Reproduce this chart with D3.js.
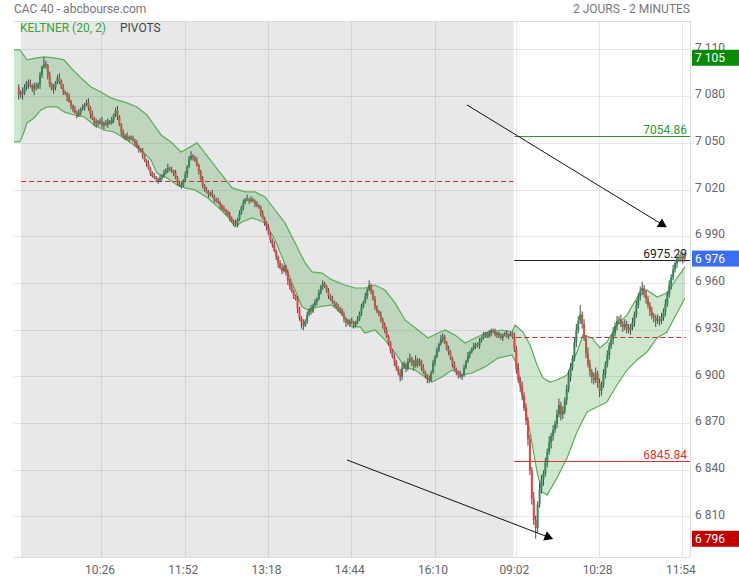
<!DOCTYPE html>
<meta charset="utf-8">
<style>
body { margin: 0; background: #fff; }
text { font-family: Roboto, "Open Sans", sans-serif; font-size: 12px; }
</style>
<body>
<script src="https://d3js.org/d3.v7.min.js"></script>
<script>
// CAC 40, 2 days of 2-minute candles. index 0 = day 1 09:00, index 256 = day 2 09:00
var firstOpen = 7086;

var day1Close = [
  7081,7083,7082,7086,7089,7088,7087,7085,7087,7086,7088,7094,7099,7101,7100,7094,
  7088,7085,7086,7089,7092,7090,7086,7083,7082,7080,7077,7074,7072,7070,7068,7070,
  7072,7073,7075,7076,7073,7069,7066,7063,7064,7063,7064,7062,7063,7062,7064,7063,
  7065,7068,7071,7067,7062,7057,7054,7055,7053,7054,7053,7052,7050,7048,7046,7045,
  7042,7039,7037,7034,7031,7029,7028,7027,7026,7028,7029,7031,7033,7034,7033,7032,
  7031,7028,7025,7023,7023,7026,7030,7035,7040,7042,7041,7039,7036,7032,7027,7023,
  7020,7019,7017,7018,7016,7014,7013,7012,7010,7008,7007,7006,7004,7002,7000,6999,
  6998,7001,7005,7009,7012,7014,7014,7013,7014,7013,7011,7010,7009,7005,7002,6999,
  6996,6992,6988,6985,6981,6977,6973,6970,6968,6971,6967,6962,6958,6955,6952,6950,
  6944,6938,6935,6933,6936,6940,6943,6942,6946,6948,6950,6954,6958,6960,6958,6955,
  6952,6950,6948,6947,6945,6944,6943,6940,6937,6935,6934,6936,6935,6933,6935,6937,
  6941,6945,6948,6952,6956,6959,6955,6950,6945,6942,6940,6937,6934,6930,6926,6922,
  6917,6913,6910,6906,6903,6900,6906,6908,6905,6910,6912,6909,6907,6911,6908,6910,
  6906,6903,6901,6899,6898,6903,6909,6913,6917,6921,6924,6926,6922,6918,6916,6912,
  6908,6905,6903,6902,6900,6901,6906,6910,6914,6916,6918,6920,6921,6920,6923,6925,
  6927,6928,6926,6928,6930,6929,6927,6928,6926,6925,6927,6928,6926,6927,6928,6925.6
];
var day2Close = [
  6918,6905,6898,6894,6888,6880,6872,6860,6840,6822,6808,6803,6818,6828,6834,6838,
  6845,6852,6858,6862,6866,6870,6876,6882,6876,6878,6885,6892,6900,6906,6912,6922,
  6930,6936,6940,6934,6925,6915,6908,6903,6900,6898,6902,6896,6891,6895,6902,6908,
  6914,6920,6924,6928,6933,6936,6937,6934,6932,6934,6931,6930,6932,6935,6940,6946,
  6952,6955,6957,6953,6950,6946,6942,6939,6938,6936,6937,6936,6938,6942,6947,6953,
  6959,6964,6969,6973,6976,6977,6976,6978,6976
];

// wick length above / below the body, in points
var day1WickUp = [
  2,1,3,2,1,2,3,1,2,2,1,2,1,4,2,1, 2,1,2,1,2,3,1,2,1,1,2,1,1,2,1,2,
  1,2,1,2,3,1,2,1,2,1,2,3,1,2,2,1, 2,1,2,3,1,1,2,1,2,1,1,2,1,2,1,1,
  2,1,1,2,1,1,2,1,1,2,1,2,1,3,1,2, 1,2,1,1,2,1,2,1,2,3,1,1,2,1,1,2,
  1,2,1,1,2,1,1,2,1,1,2,1,1,2,1,1, 2,1,2,1,2,1,3,1,2,1,1,2,1,1,2,1,
  1,2,1,1,2,1,1,2,3,1,1,2,1,2,1,1, 2,1,1,2,1,2,1,3,1,2,1,2,1,2,1,1,
  2,1,2,1,1,2,1,1,2,1,2,1,2,1,1,2, 1,2,1,2,1,3,1,1,2,1,1,2,1,1,2,1,
  1,1,2,1,1,2,3,2,1,2,3,1,2,3,1,2, 1,2,1,1,2,1,2,1,2,1,3,2,1,1,2,1,
  1,2,1,1,2,1,2,1,2,1,1,2,1,1,2,1, 2,1,1,2,1,1,2,1,1,2,1,1,2,1,1,1
];
var day1WickDn = [
  3,2,4,1,2,3,1,2,4,2,1,3,2,1,2,3, 2,1,3,2,1,2,1,2,1,3,1,2,2,1,2,1,
  2,1,2,1,2,3,1,2,3,2,1,2,3,1,2,1, 1,2,1,2,1,2,1,2,1,2,1,1,2,1,2,1,
  2,1,2,1,2,1,1,2,2,1,2,1,1,2,1,1, 2,1,2,1,2,1,1,2,1,1,2,1,1,2,1,2,
  1,1,2,1,1,2,1,1,2,1,1,2,1,2,1,2, 1,2,1,1,2,1,1,2,1,1,2,1,1,2,1,2,
  2,1,2,2,1,2,3,1,2,1,2,3,2,1,2,1, 3,2,4,3,1,2,1,2,1,1,2,1,1,2,1,1,
  2,1,1,2,1,2,2,1,2,3,1,2,1,2,1,1, 1,2,1,1,2,1,2,1,2,1,1,2,3,2,1,2,
  2,1,3,2,2,3,2,1,2,1,1,2,3,1,2,1, 2,1,2,3,2,1,1,2,1,1,1,2,1,1,2,1,
  2,1,2,3,1,2,1,1,1,2,1,1,2,1,2,1, 1,2,1,1,2,1,1,2,1,1,2,1,1,2,1,1
];
var day2WickUp = [
  3,2,4,2,3,2,3,2,3,2,4,3,2,4,3,2, 3,2,4,2,3,2,3,4,2,3,2,3,4,3,2,3,
  4,3,6,2,3,2,4,3,2,3,4,2,3,2,3,2, 3,2,3,4,2,3,2,3,2,3,2,3,2,3,2,3,
  2,3,4,2,3,2,2,3,2,2,3,2,3,2,3,2, 3,2,3,2,2,2,3,2,2
];
var day2WickDn = [
  2,3,2,4,3,2,3,4,3,4,3,7,3,2,3,4, 2,3,2,4,3,2,3,2,4,3,2,3,2,3,2,2,
  3,2,2,3,2,3,2,3,4,3,2,3,4,3,2,3, 2,3,2,3,2,3,2,2,3,2,3,2,3,2,3,2,
  2,3,2,2,3,2,3,2,3,4,2,3,2,2,3,2, 2,3,2,2,3,2,2,3,2
];

// stretches of heavy (bright red) selling
var vividRed = [[66,71],[103,112],[127,146],[189,198],[211,213],[225,229],[256,267]];

// Keltner (20, 2) envelope, [index, value]
var keltnerUpper = [[-2.45,7110],[0.6,7110],[4.3,7103.6],[9.4,7104.9],[13,7105.5],[18.2,7104.9],[23.4,7103.6],[27,7098.4],[32.2,7092],[37.3,7086.2],[42.5,7083],[47.6,7079.2],[50.7,7077.9],[55.9,7076],[61.1,7073.4],[66.2,7068.2],[69.9,7061.8],[73.5,7055.4],[78.6,7050.9],[83.8,7044.5],[85.9,7045.8],[92.1,7050.3],[96.2,7043.8],[102.9,7032.9],[110.2,7021.4],[116.9,7018.8],[122,7018.8],[127.2,7015.6],[132.4,7007.2],[137.5,6998.9],[142.7,6986.1],[147.9,6973.2],[151.5,6967.4],[156.6,6966.7],[161.8,6962.3],[168.5,6959],[173.7,6957.1],[178.8,6957.1],[184,6959],[189.2,6955.8],[194.3,6947.5],[199.5,6936.6],[206.2,6930.1],[211.4,6925],[216.6,6928.2],[220.2,6930.1],[225.3,6926.9],[230.5,6921.8],[235.7,6925],[242.4,6928.8],[249.6,6930.1],[254.8,6928.8],[256.3,6933.3],[260.5,6928.8],[264.1,6920.5],[267.7,6907.6],[270.8,6899.3],[274.4,6896.7],[278,6898],[283.2,6901.2],[288.3,6916],[291.4,6926.9],[296.1,6925],[300.2,6918.6],[303.8,6922.4],[309,6933.3],[314.2,6939.8],[319.3,6950.7],[324.5,6955.8],[329.7,6951.3],[334.8,6953.9],[340,6963.5],[344.1,6970.6]];
var keltnerLower = [[-2.45,7050.9],[0.6,7050.9],[2.7,7057.3],[4.3,7063.1],[7.9,7066.3],[11.5,7071.5],[14.6,7073.4],[19.8,7073.4],[23.4,7070.2],[28.5,7068.2],[33.7,7067],[38.9,7061.8],[44,7058.6],[49.2,7057.3],[54.4,7053.5],[59.5,7049],[64.7,7043.8],[68.3,7039.3],[71.4,7031],[76.6,7027.8],[81.7,7023.3],[85.9,7021.4],[91,7020.1],[97.7,7014.9],[102.9,7009.1],[108.1,7002.7],[111.7,6996.3],[115.3,6999.5],[120.5,7002.1],[123.6,7000.8],[127.2,6998.9],[132.4,6987.9],[136,6977],[139.1,6966.7],[142.7,6955.8],[146.3,6944.9],[149.4,6943],[154.6,6944.9],[161.8,6946.2],[168.5,6938.5],[172.1,6932.1],[176.3,6932.1],[178.8,6928.2],[184,6930.1],[189.2,6923.7],[194.3,6915.4],[199.5,6906.4],[204.7,6904.4],[209.8,6899.9],[213.4,6896.7],[218.6,6899.9],[223.8,6904.4],[228.9,6901.2],[234.1,6902.5],[240.8,6906.4],[247.5,6912.1],[254.8,6914.1],[257.4,6907.6],[260.5,6886.4],[264.1,6864.6],[267.7,6838.9],[270.3,6826.1],[272.9,6824.1],[278,6835.1],[283.2,6847.9],[288.3,6864.6],[293.5,6877.5],[298.7,6880.7],[303.8,6883.9],[309,6894.8],[314.2,6904.4],[319.3,6910.9],[324.5,6916],[329.7,6925],[334.8,6928.8],[340,6941],[344.1,6950.7]];

// pivots (day 2) and previous closes
var pivotValues = [7054.86, 6975.29, 6845.84];
var pivotColors = ["#2a9a2a", "#222", "#e53030"];
var prevClose = [[1.2, 255.5, 7025.8], [257, 344.5, 6925.6]];

// price badges on the axis: high, last, low
var badgeValues = [7105, 6976, 6796];
var badgeColors = ["#098a09", "#3b6ef5", "#c20000"];

var tickIdx = [43, 86, 129, 172, 215, 257, 300, 343];
var tickLabels = ["10:26", "11:52", "13:18", "14:44", "16:10", "09:02", "10:28", "11:54"];
var yTicks = [6810, 6840, 6870, 6900, 6930, 6960, 6990, 7020, 7050, 7080, 7110];

// trend arrows drawn on the chart, [index, value] start and tip
var arrows = [[[231.5, 7074.7], [334.7, 6996.1]], [[169.6, 6846.6], [276.0, 6795.9]]];

var W = 739, H = 580;
var plot = { left: 14, right: 690, top: 21, bottom: 557 };

var x = d3.scaleLinear().domain([-2.45, 346.7]).range([plot.left, plot.right]);
var y = d3.scaleLinear().domain([6784.3, 7128.6]).range([plot.bottom, plot.top]);

var svg = d3.select("body").append("svg")
    .attr("width", W)
    .attr("height", H);

svg.append("rect").attr("width", W).attr("height", H).attr("fill", "#fff");

// day 1 shading
svg.append("rect")
    .attr("x", x(prevClose[0][0]))
    .attr("y", plot.top)
    .attr("width", x(prevClose[0][1]) - x(prevClose[0][0]))
    .attr("height", plot.bottom - plot.top)
    .attr("fill", "#e8e8e8");

// grid
var grid = svg.append("g").attr("shape-rendering", "crispEdges");
grid.selectAll(".h").data(yTicks).enter().append("line")
    .attr("x1", plot.left).attr("x2", plot.right)
    .attr("y1", function(d) { return y(d); })
    .attr("y2", function(d) { return y(d); })
    .attr("stroke", "rgba(0,0,0,0.09)");
grid.selectAll(".v").data(tickIdx).enter().append("line")
    .attr("x1", function(d) { return x(d); })
    .attr("x2", function(d) { return x(d); })
    .attr("y1", plot.top).attr("y2", plot.bottom)
    .attr("stroke", "rgba(0,0,0,0.09)");
grid.append("line").attr("x1", plot.left).attr("x2", plot.right)
    .attr("y1", plot.top).attr("y2", plot.top).attr("stroke", "#ddd");
grid.append("line").attr("x1", plot.left).attr("x2", plot.right)
    .attr("y1", plot.bottom).attr("y2", plot.bottom).attr("stroke", "#ddd");
grid.append("line").attr("x1", plot.right).attr("x2", plot.right)
    .attr("y1", plot.top).attr("y2", plot.bottom).attr("stroke", "#ddd");

// keltner band
var bandLine = d3.line()
    .x(function(d) { return x(d[0]); })
    .y(function(d) { return y(d[1]); });
var bandPath = bandLine(keltnerUpper) + "L" + bandLine(keltnerLower.slice().reverse()).slice(1) + "Z";
svg.append("path")
    .attr("d", bandPath)
    .attr("fill", "rgba(60,160,60,0.25)");
svg.append("path").attr("d", bandLine(keltnerUpper))
    .attr("fill", "none").attr("stroke", "#5aad5a").attr("stroke-width", 1.2);
svg.append("path").attr("d", bandLine(keltnerLower))
    .attr("fill", "none").attr("stroke", "#5aad5a").attr("stroke-width", 1.2);

// previous close (dashed)
svg.selectAll(".pc").data(prevClose).enter().append("line")
    .attr("x1", function(d) { return x(d[0]); })
    .attr("x2", function(d) { return x(d[1]); })
    .attr("y1", function(d) { return Math.round(y(d[2])) + 0.5; })
    .attr("y2", function(d) { return Math.round(y(d[2])) + 0.5; })
    .attr("stroke", "#d42a2a")
    .attr("stroke-dasharray", "5,3");

// pivot lines
pivotValues.forEach(function(v, k) {
    var yy = Math.round(y(v)) + 0.5;
    svg.append("line")
        .attr("x1", x(256)).attr("x2", plot.right)
        .attr("y1", yy).attr("y2", yy)
        .attr("stroke", pivotColors[k]).attr("stroke-width", 1);
    svg.append("text")
        .attr("x", plot.right - 3).attr("y", yy - 3)
        .attr("text-anchor", "end")
        .attr("fill", pivotColors[k])
        .text(v.toFixed(2));
});

// candles
var closes = day1Close.concat(day2Close);
var wUp = day1WickUp.concat(day2WickUp);
var wDn = day1WickDn.concat(day2WickDn);
var candles = closes.map(function(c, i) {
    var o = i ? closes[i - 1] : firstOpen;
    return { i: i, o: o, c: c, h: Math.max(o, c) + wUp[i], l: Math.min(o, c) - wDn[i] };
});
function isVivid(i) {
    return vividRed.some(function(r) { return i >= r[0] && i <= r[1]; });
}
var cg = svg.append("g");
cg.selectAll(".wick").data(candles).enter().append("line")
    .attr("x1", function(d) { return x(d.i); })
    .attr("x2", function(d) { return x(d.i); })
    .attr("y1", function(d) { return y(d.h); })
    .attr("y2", function(d) { return y(d.l); })
    .attr("stroke", "#4a4a4a").attr("stroke-width", 1);
cg.selectAll(".body").data(candles).enter().append("rect")
    .attr("x", function(d) { return x(d.i) - 1; })
    .attr("width", 2)
    .attr("y", function(d) { return y(Math.max(d.o, d.c)); })
    .attr("height", function(d) { return Math.max(1.2, Math.abs(y(d.o) - y(d.c))); })
    .attr("fill", function(d) {
        if (d.c >= d.o) return "#2e8b57";
        return isVivid(d.i) ? "#f03c3c" : "#c8553e";
    });

// arrows
arrows.forEach(function(a) {
    var x0 = x(a[0][0]), y0 = y(a[0][1]), x1 = x(a[1][0]), y1 = y(a[1][1]);
    var ang = Math.atan2(y1 - y0, x1 - x0), s = 10;
    var p1 = [x1 + s * Math.cos(ang + 5 * Math.PI / 6), y1 + s * Math.sin(ang + 5 * Math.PI / 6)];
    var p2 = [x1 + s * Math.cos(ang - 5 * Math.PI / 6), y1 + s * Math.sin(ang - 5 * Math.PI / 6)];
    svg.append("line")
        .attr("x1", x0).attr("y1", y0)
        .attr("x2", x1 - 5 * Math.cos(ang)).attr("y2", y1 - 5 * Math.sin(ang))
        .attr("stroke", "#111").attr("stroke-width", 1);
    svg.append("path")
        .attr("d", "M" + x1 + "," + y1 + "L" + p1 + "L" + p2 + "Z")
        .attr("fill", "#000");
});

// axes labels
var fr = d3.formatLocale({ decimal: ",", thousands: " ", grouping: [3], currency: ["", " €"] });
var fmt = fr.format(",d");
svg.selectAll(".yl").data(yTicks).enter().append("text")
    .attr("x", 695)
    .attr("y", function(d) { return y(d) - 2.5; })
    .attr("dy", "0.35em")
    .attr("fill", "#666")
    .text(function(d) { return fmt(d); });

badgeValues.forEach(function(v, k) {
    var yy = y(v);
    svg.append("rect")
        .attr("x", 692).attr("y", yy - 8)
        .attr("width", W - 692).attr("height", 16)
        .attr("fill", badgeColors[k]);
    svg.append("text")
        .attr("x", 695).attr("y", yy)
        .attr("dy", "0.36em")
        .attr("fill", "#fff")
        .text(fmt(v));
});

svg.selectAll(".xl").data(tickIdx).enter().append("text")
    .attr("x", function(d) { return x(d) - 2; })
    .attr("y", 574)
    .attr("text-anchor", "middle")
    .attr("fill", "#666")
    .text(function(d, k) { return tickLabels[k]; });

// header
svg.append("text").attr("x", 14).attr("y", 13).attr("fill", "#777").text("CAC 40 - abcbourse.com");
svg.append("text").attr("x", 690).attr("y", 13).attr("text-anchor", "end").attr("fill", "#777").text("2 JOURS - 2 MINUTES");
svg.append("text").attr("x", 20).attr("y", 32).attr("fill", "#3aa23a").text("KELTNER (20, 2)");
svg.append("text").attr("x", 120).attr("y", 32).attr("fill", "#444").text("PIVOTS");
</script>
</body>
